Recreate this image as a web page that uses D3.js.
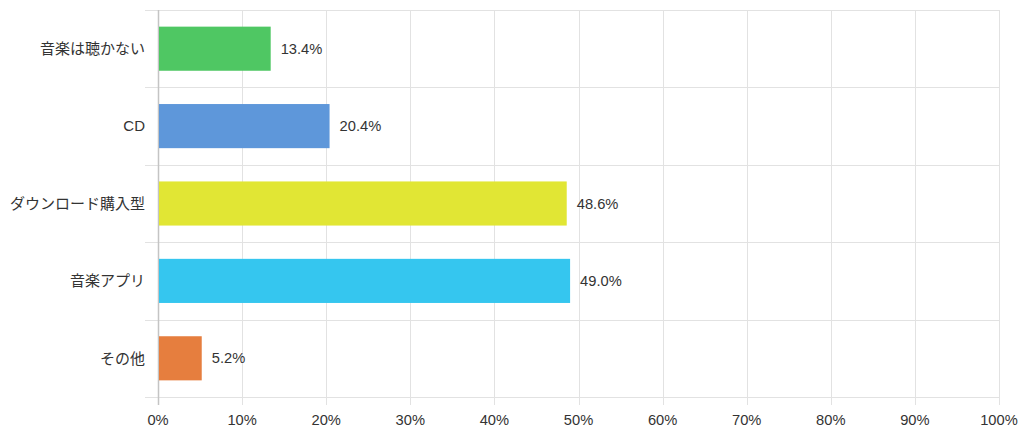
<!DOCTYPE html>
<html lang="ja">
<head>
  <meta charset="UTF-8">
  <title>音楽の聴き方</title>
  <style>
    body { margin: 0; background: #fff; }
    svg text { font-family: "Liberation Sans", Arial, "Noto Sans CJK JP", sans-serif; fill: #333; }
    .grid line { stroke: #e2e2e2; stroke-width: 1px; }
  </style>
</head>
<body>
  <div id="chart"></div>
  <script src="https://d3js.org/d3.v7.min.js"></script>
  <script>
    // data
    const categories = ["音楽は聴かない", "CD", "ダウンロード購入型", "音楽アプリ", "その他"];
    const values = [13.4, 20.4, 48.6, 49.0, 5.2];
    const colors = ["#4fc763", "#5e97da", "#e1e634", "#35c6ef", "#e67e3e"];
    const xTicks = [0, 10, 20, 30, 40, 50, 60, 70, 80, 90, 100];

    const width = 1024, height = 433;
    const margin = { top: 10, right: 25, bottom: 36, left: 158 };

    const svg = d3.select("#chart").append("svg")
      .attr("width", width)
      .attr("height", height);

    const x = d3.scaleLinear()
      .domain([0, 100])
      .range([margin.left, width - margin.right]);

    const y = d3.scaleBand()
      .domain(categories)
      .range([margin.top, height - margin.bottom])
      .paddingInner(0)
      .paddingOuter(0);

    const barH = y.bandwidth() * 0.57;

    // vertical grid lines (extend a little below the plot as ticks)
    svg.append("g").attr("class", "grid")
      .selectAll("line")
      .data(xTicks.slice(1))
      .join("line")
      .attr("x1", d => Math.round(x(d)) + 0.5)
      .attr("x2", d => Math.round(x(d)) + 0.5)
      .attr("y1", margin.top)
      .attr("y2", height - margin.bottom + 8);

    // horizontal grid lines at category boundaries
    const bounds = categories.map(c => y(c)).concat([y.range()[1]]);
    svg.append("g").attr("class", "grid")
      .selectAll("line")
      .data(bounds)
      .join("line")
      .attr("x1", margin.left - 13)
      .attr("x2", x(100))
      .attr("y1", d => Math.round(d) + 0.5)
      .attr("y2", d => Math.round(d) + 0.5);

    // left axis line
    svg.append("line")
      .attr("x1", Math.round(x(0)) + 0.5)
      .attr("x2", Math.round(x(0)) + 0.5)
      .attr("y1", margin.top)
      .attr("y2", height - margin.bottom + 8)
      .attr("stroke", "#c4c4c4")
      .attr("stroke-width", 1.5);

    // bars
    svg.append("g")
      .selectAll("rect")
      .data(values)
      .join("rect")
      .attr("x", x(0) + 1)
      .attr("y", (d, i) => y(categories[i]) + (y.bandwidth() - barH) / 2)
      .attr("width", d => x(d) - x(0) - 1)
      .attr("height", barH)
      .attr("fill", (d, i) => colors[i]);

    // value labels
    svg.append("g")
      .selectAll("text")
      .data(values)
      .join("text")
      .attr("x", d => x(d) + 10)
      .attr("y", (d, i) => y(categories[i]) + y.bandwidth() / 2)
      .attr("dy", "0.35em")
      .attr("font-size", 14.7)
      .text(d => d.toFixed(1) + "%");

    // category labels
    svg.append("g")
      .selectAll("text")
      .data(categories)
      .join("text")
      .attr("x", margin.left - 13)
      .attr("y", d => y(d) + y.bandwidth() / 2)
      .attr("dy", "0.35em")
      .attr("text-anchor", "end")
      .attr("font-size", 15)
      .text(d => d);

    // x tick labels
    svg.append("g")
      .selectAll("text")
      .data(xTicks)
      .join("text")
      .attr("x", d => x(d))
      .attr("y", height - 8)
      .attr("text-anchor", "middle")
      .attr("font-size", 14.7)
      .attr("fill", "#444")
      .text(d => d + "%");
  </script>
</body>
</html>
